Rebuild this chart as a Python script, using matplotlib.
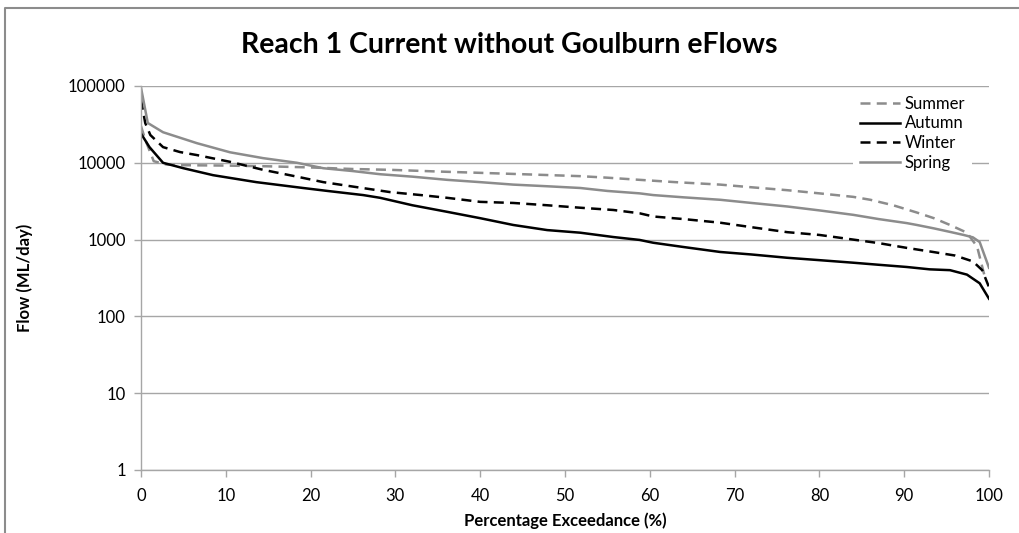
import matplotlib
matplotlib.use('Agg')
import matplotlib.pyplot as plt
from matplotlib.lines import Line2D

plt.rcParams['font.family'] = ['Lato', 'DejaVu Sans']

# ---- data (percent exceedance vs flow ML/day) ----
x_summer = [0, 0.5, 1.5, 3, 5, 10, 15, 20, 25, 29.4, 35, 40, 45, 51.8, 55, 58.8, 63, 68.3,
            72, 76.2, 80, 84, 86, 88.7, 91.5, 93.5, 95.4, 97.4, 98.6, 99.3, 99.6]
summer = [30000, 20000, 10500, 9500, 9300, 9200, 9000, 8700, 8300, 8100, 7700, 7400, 7100,
          6700, 6400, 6000, 5600, 5200, 4800, 4400, 4000, 3600, 3300, 2800, 2250, 1900,
          1550, 1230, 810, 400, 300]

x_autumn = [0, 1, 2.6, 5, 8.5, 13.6, 19.1, 22, 26.2, 28.2, 32, 36.1, 40, 43.9, 47.9, 51.8,
            55.7, 58.8, 60.4, 64, 68.3, 72, 76.2, 80, 84, 87, 90.3, 93, 95.4, 97.4, 98.9, 100]
autumn = [24000, 16000, 10000, 8500, 6900, 5600, 4700, 4300, 3800, 3500, 2800, 2300, 1900,
          1550, 1330, 1230, 1080, 990, 910, 800, 690, 640, 580, 540, 500, 470, 440, 410,
          400, 350, 270, 170]

x_winter = [0, 0.5, 1.1, 2.6, 4.6, 6.6, 10.5, 14.4, 18.4, 21.5, 25, 29.4, 33, 36.1, 40,
            43.9, 47.9, 51.8, 55.7, 58.8, 60.4, 64, 68.3, 72, 76.2, 80, 84, 87, 90.3, 93.4,
            96, 98.1, 99.2, 100]
winter = [66000, 33000, 23000, 16000, 13800, 12600, 10300, 8100, 6600, 5600, 4900, 4150,
          3800, 3500, 3100, 3000, 2800, 2600, 2430, 2200, 2000, 1850, 1660, 1450, 1250,
          1150, 1000, 900, 780, 690, 620, 520, 400, 240]

x_spring = [0, 0.8, 2.6, 6.6, 10.5, 14.4, 18.4, 21.5, 25, 28.2, 32, 36.1, 40, 43.9, 47.9,
            51.8, 55, 58.8, 60.4, 64, 68.3, 72, 76.2, 80, 84, 87, 90.3, 91.5, 93.5, 95.4,
            97, 98.1, 98.9, 100]
spring = [95000, 33000, 25000, 18000, 13700, 11500, 10000, 8500, 7800, 7100, 6600, 6000,
          5600, 5200, 4950, 4700, 4300, 4000, 3800, 3550, 3300, 3000, 2700, 2400, 2100,
          1850, 1640, 1550, 1400, 1260, 1150, 1070, 930, 430]

series_labels = ['Summer', 'Autumn', 'Winter', 'Spring']
x_ticks = list(range(0, 101, 10))
y_ticks = [1, 10, 100, 1000, 10000, 100000]
y_ticklabels = ['1', '10', '100', '1000', '10000', '100000']

grey_line = '#8c8c8c'
grid_col = '#a6a6a6'

fig = plt.figure(figsize=(10.19, 5.33), dpi=100)
ax = fig.add_axes([141 / 1019, 1 - 470 / 533, (989 - 141) / 1019, (470 - 86) / 533])

ax.plot(x_summer, summer, color=grey_line, lw=1.8, ls=(0, (4, 2.5)), label=series_labels[0])
ax.plot(x_autumn, autumn, color='black', lw=1.8, label=series_labels[1])
ax.plot(x_winter, winter, color='black', lw=1.8, ls=(0, (4, 2.5)), label=series_labels[2])
ax.plot(x_spring, spring, color=grey_line, lw=1.8, label=series_labels[3])

ax.set_yscale('log')
ax.set_xlim(0, 100)
ax.set_ylim(1, 100000)
ax.set_xticks(x_ticks)
ax.set_xticklabels([str(t) for t in x_ticks])
ax.set_yticks(y_ticks)
ax.set_yticklabels(y_ticklabels)
ax.yaxis.set_minor_locator(matplotlib.ticker.NullLocator())
ax.grid(axis='y', color=grid_col, lw=1.0)
ax.set_axisbelow(True)

for side in ['top', 'right']:
    ax.spines[side].set_visible(False)
for side in ['left', 'bottom']:
    ax.spines[side].set_color(grid_col)
    ax.spines[side].set_linewidth(1.0)
ax.tick_params(axis='both', direction='out', length=5, width=1.0, color=grid_col,
               labelsize=12, labelcolor='black')
ax.tick_params(axis='x', pad=8)
ax.tick_params(axis='y', pad=6)

ax.set_xlabel('Percentage Exceedance (%)', fontsize=12, fontweight='bold', labelpad=6)
ax.set_ylabel('Flow (ML/day)', fontsize=12, fontweight='bold', labelpad=25)
fig.text(0.5, 1 - 45 / 533, 'Reach 1 Current without Goulburn eFlows', ha='center',
         va='center', fontsize=20.5, fontweight='bold')

leg = ax.legend(loc='upper right', bbox_to_anchor=(0.98, 1.0 - 3 / 384), frameon=True,
                fontsize=12, handlelength=2.4, handletextpad=0.3, labelspacing=0.22,
                borderaxespad=0, borderpad=0.4)
leg.get_frame().set_edgecolor('none')
leg.get_frame().set_facecolor('white')
leg.get_frame().set_alpha(1)
leg.get_frame().set_boxstyle('square', pad=0)

# chart area frame (left and top edges visible)
fig.add_artist(Line2D([5 / 1019, 5 / 1019, 1], [0, 1 - 8 / 533, 1 - 8 / 533],
                      transform=fig.transFigure, color='#8c8c8c', lw=1.5))

fig.savefig('out.png', dpi=100)
